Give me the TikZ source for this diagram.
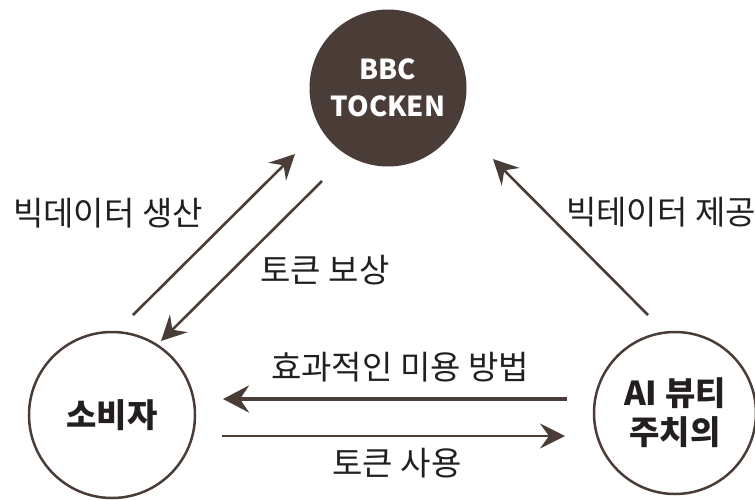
\documentclass[tikz,border=0pt]{standalone}
\usepackage{fontspec}
\setmainfont{Noto Sans CJK KR}
\usetikzlibrary{arrows.meta}
\definecolor{brn}{RGB}{74,60,54}
\definecolor{txt}{RGB}{35,31,32}
\tikzset{
  ring/.style={circle,draw=brn,line width=2.5pt,minimum size=#1,inner sep=0pt,
    font=\fontsize{33}{39}\selectfont\bfseries,text=txt,align=center},
  tokenball/.style={circle,fill=brn,minimum size=157pt,inner sep=0pt,
    font=\fontsize{27.5}{37}\selectfont\bfseries,text=white,align=center},
  lbl/.style={font=\fontsize{33}{38}\selectfont,text=txt,inner sep=0pt},
  arr/.style={draw=brn,line width=2.6pt,-{Stealth[length=25pt,width=25pt,inset=9pt]}},
  arrthick/.style={draw=brn,line width=4pt,-{Stealth[length=26pt,width=27pt,inset=9pt]}},
}
\begin{document}
\begin{tikzpicture}[x=1pt,y=-1pt]
\useasboundingbox (0,0) rectangle (755,499);
\node[tokenball] (tok) at (388,88) {BBC\\TOCKEN};
\node[ring=166pt] (con) at (112,415) {소비자};
\node[ring=162pt] (ai) at (675,413) {AI 뷰티\\주치의};
% connector end points
\coordinate (a1s) at (133,315); \coordinate (a1e) at (295,154);
\coordinate (a2s) at (322,181); \coordinate (a2e) at (161,341);
\coordinate (a3s) at (648,315); \coordinate (a3e) at (493,159);
\coordinate (a4s) at (567,399); \coordinate (a4e) at (223,399);
\coordinate (a5s) at (222,436); \coordinate (a5e) at (565,436);
\draw[arr] (a1s) -- (a1e);
\draw[arr] (a2s) -- (a2e);
\draw[arr] (a3s) -- (a3e);
\draw[arrthick] (a4s) -- (a4e);
\draw[arr] (a5s) -- (a5e);
\node[lbl] (l1) at (108,213) {빅데이터 생산};
\node[lbl] (l2) at (325,270) {토큰 보상};
\node[lbl,anchor=west] (l3) at (566,212) {빅테이터 제공};
\node[lbl] (l4) at (400,367) {효과적인 미용 방법};
\node[lbl] (l5) at (397,463) {토큰 사용};
\end{tikzpicture}
\end{document}
